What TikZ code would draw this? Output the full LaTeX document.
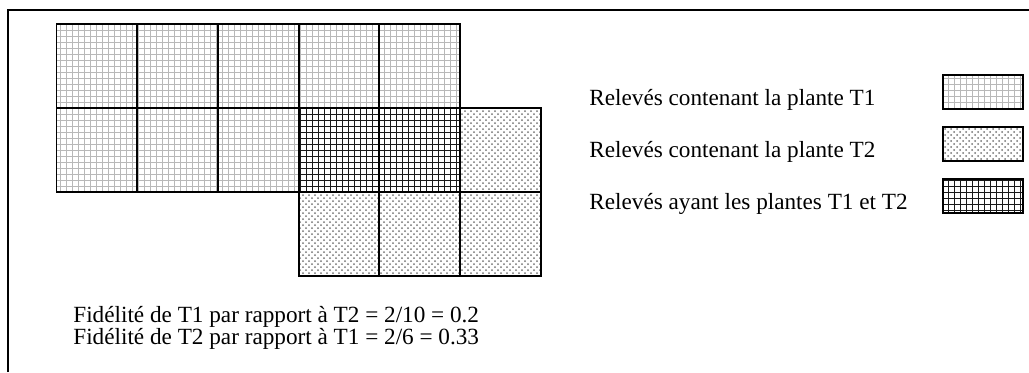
\documentclass[tikz,border=0pt]{standalone}
\usepackage{fontspec}
\setmainfont{Liberation Serif}
\usetikzlibrary{patterns, positioning}

\begin{document}
\begin{tikzpicture}[
    x=0.5pt, y=-0.5pt,
    node distance=8pt,
    plot/.style={rectangle, draw, line width=0.9pt, minimum width=40.35pt, minimum height=42pt, inner sep=0pt},
    plotA/.style={plot, pattern=grid, pattern color=black!28},
    plotB/.style={plot, pattern=crosshatch dots, pattern color=black!55},
    plotAB/.style={plot, pattern=grid, pattern color=black!90},
    keybox/.style={rectangle, draw, line width=1pt, minimum width=40pt, minimum height=17pt, inner sep=0pt},
    caption/.style={anchor=base west, inner sep=0pt, font=\fontsize{11.6}{13}\selectfont},
]
    \useasboundingbox (0,0) rectangle (1029,372);

    % Frame
    \draw[line width=1pt] (8,372) -- (8,10) -- (1029,10);

    % Releves, first row
    \foreach \c in {0,...,4}
        \node[plotA] (r0c\c) at (96.85+80.7*\c, 66) {};

    % Releves, second row
    \foreach \c in {0,1,2}
        \node[plotA] (r1c\c) at (96.85+80.7*\c, 150) {};
    \foreach \c in {3,4}
        \node[plotAB] (r1c\c) at (96.85+80.7*\c, 150) {};
    \node[plotB] (r1c5) at (96.85+80.7*5, 150) {};

    % Releves, third row
    \foreach \c in {3,4,5}
        \node[plotB] (r2c\c) at (96.85+80.7*\c, 234) {};

    % Legend
    \node[keybox, pattern=grid, pattern color=black!28] (keyA) at (983, 91.5) {};
    \node[keybox, pattern=crosshatch dots, pattern color=black!55, below=of keyA] (keyB) {};
    \node[keybox, pattern=grid, pattern color=black!90, below=of keyB] (keyAB) {};

    \node[caption] (labA) at (589, 105) {Relevés contenant la plante T1};
    \node[caption] (labB) at (589, 157) {Relevés contenant la plante T2};
    \node[caption] (labAB) at (589, 209) {Relevés ayant les plantes T1 et T2};

    % Fidelite
    \node[caption] (fidA) at (73, 322) {Fidélité de T1 par rapport à T2 = 2/10 = 0.2};
    \node[caption] (fidB) at (73, 344) {Fidélité de T2 par rapport à T1 = 2/6 = 0.33};
\end{tikzpicture}
\end{document}
